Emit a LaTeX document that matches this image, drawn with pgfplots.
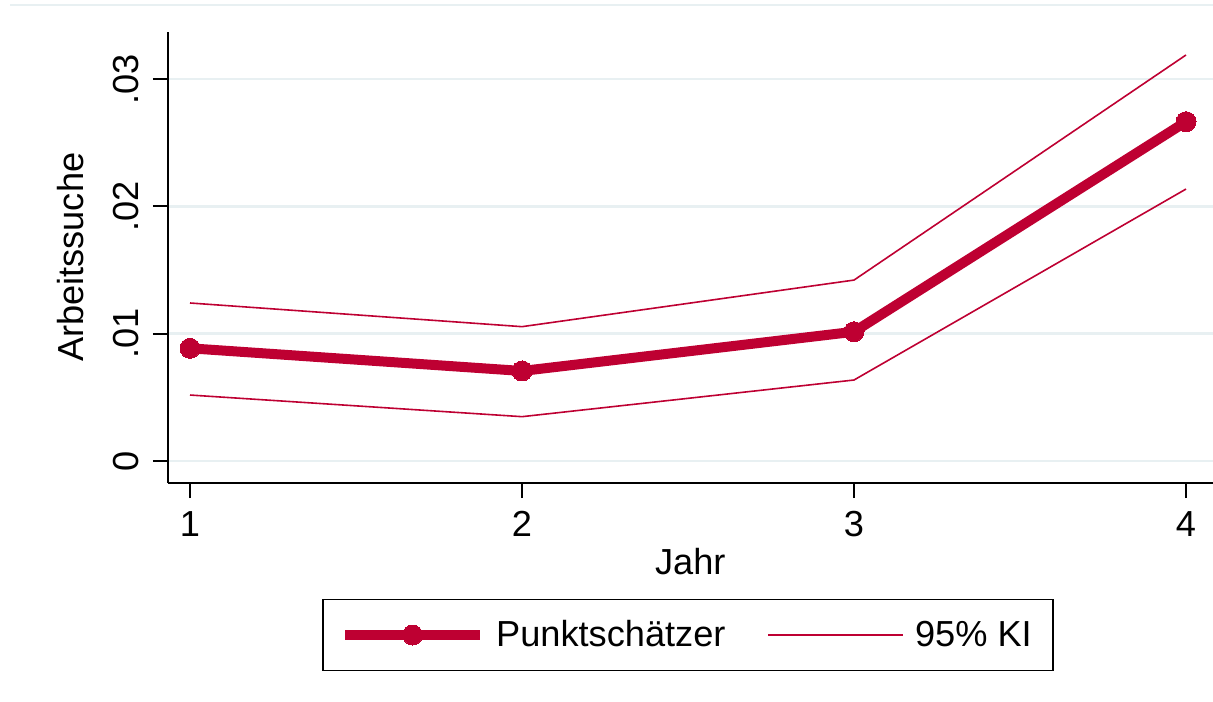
\documentclass[border=0pt]{standalone}
\usepackage{pgfplots}
\pgfplotsset{compat=1.18}
\usepackage{fontspec}
\setmainfont{Liberation Sans}
\definecolor{cran}{RGB}{190,0,50}
\definecolor{gridc}{RGB}{232,240,242}
\begin{document}
\begin{tikzpicture}[font=\fontsize{18.1}{21.5}\selectfont]
\begin{axis}[
  at={(0,0)}, anchor=south west,
  scale only axis, width=522.25pt, height=225.65pt,
  xmin=0.9337, xmax=4.0798, ymin=-0.00173, ymax=0.03372,
  axis x line*=bottom, axis y line*=left,
  axis line style={line width=1pt, black},
  tick align=outside, major tick length=7.5pt,
  tick style={black, line width=1pt},
  xtick={1,2,3,4}, xticklabels={1,2,3,4},
  ytick={0,0.01,0.02,0.03}, yticklabels={0,.01,.02,.03},
  scaled y ticks=false, minor tick num=0,
  /pgf/number format/assume math mode=true,
  xticklabel style={anchor=north, inner sep=0pt, yshift=-6.5pt},
  yticklabel style={rotate=90, anchor=south, inner sep=0pt, yshift=7pt},
  ymajorgrids, grid style={gridc, line width=1.2pt},
  xlabel={Jahr}, ylabel={Arbeitssuche},
  xlabel style={at={(axis description cs:0.5,-0.175)}, anchor=center},
  ylabel style={at={(axis description cs:-0.0929,0.5)}, anchor=center},
  legend style={at={(axis description cs:0.4978,-0.3368)}, anchor=center,
    draw=black, line width=0.75pt, legend columns=2,
    font=\fontsize{18.1}{21.5}\selectfont,
    inner xsep=8.5pt, inner ysep=8.5pt,
    /tikz/every odd column/.append style={column sep=3.5pt},
    /tikz/every even column/.append style={column sep=19pt}},
  legend cell align=left,
  legend image code/.code={\draw[mark repeat=2,mark phase=2,#1] plot coordinates {(0pt,0pt)(33.75pt,0pt)(67.5pt,0pt)};},
]
\addplot[cran, line width=5pt, line join=round, mark=*, mark size=5pt, mark options={solid, line width=0pt, fill=cran}]
  coordinates {(1,0.00885)(2,0.00707)(3,0.01015)(4,0.02665)};
\addlegendentry{Punktschätzer}
\addplot[cran, line width=0.8pt]
  coordinates {(1,0.01241)(2,0.01055)(3,0.01421)(4,0.03189)};
\addlegendentry{95\% KI}
\addplot[cran, line width=0.8pt, forget plot]
  coordinates {(1,0.00518)(2,0.00348)(3,0.00636)(4,0.02136)};
\end{axis}
\draw[gridc, line width=1.2pt] (-79pt,239pt) -- (522.5pt,239pt);
\pgfresetboundingbox
\useasboundingbox (-84pt,-109pt) rectangle (522.5pt,241.5pt);
\end{tikzpicture}
\end{document}
